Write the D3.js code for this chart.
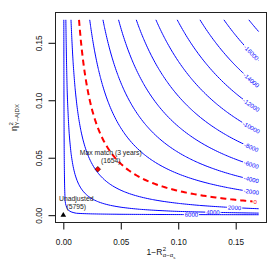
<!DOCTYPE html>
<html>
<head>
<meta charset="utf-8">
<script src="https://cdn.jsdelivr.net/npm/d3@7"></script>
<style>
  html, body { margin: 0; padding: 0; background: #fff; }
  svg { display: block; font-family: "Liberation Sans", Arial, Helvetica, sans-serif; }
</style>
</head>
<body>
<div id="chart"></div>
<script>
// contour levels of the adjusted estimate
const levels = [-18000, -16000, -14000, -12000, -10000, -8000, -6000, -4000, -2000, 0, 2000, 4000, 6000];
const xTicks = [0, 0.05, 0.1, 0.15];
const yTicks = [0, 0.05, 0.1, 0.15];
const xLim = [0, 0.17];
const yLim = [0, 0.17];

// benchmark points
const pointNames = ['Unadjusted', 'Max match (3 years)'];
const pointX = [0, 0.03];
const pointY = [0, 0.04];
const pointEstimates = [5795, 1654];

// surface: estimate - scale * sqrt(eta2 * (1-R2)/R2)
const surfaceEstimate = 6600;
const surfaceScale = 136000;
const gridSize = 101;

const WIDTH = 279;
const HEIGHT = 279;
const BLUE = '#0000ff';
const RED = '#ff0000';

const svg = d3
  .select('#chart')
  .append('svg')
  .attr('width', WIDTH)
  .attr('height', HEIGHT);

svg.append('rect').attr('width', WIDTH).attr('height', HEIGHT).attr('fill', '#fff');

// R style 4% expansion
const padX = (xLim[1] - xLim[0]) * 0.04;
const padY = (yLim[1] - yLim[0]) * 0.04;
const x = d3.scaleLinear().domain([xLim[0] - padX, xLim[1] + padX]).range([55.5, 266.5]);
const y = d3.scaleLinear().domain([yLim[0] - padY, yLim[1] + padY]).range([223, 12]);

// grid for the contours
const stepX = (xLim[1] - xLim[0]) / (gridSize - 1);
const stepY = (yLim[1] - yLim[0]) / (gridSize - 1);
const values = [];
for (let j = 0; j < gridSize; j++) {
  const eta = yLim[0] + j * stepY;
  for (let i = 0; i < gridSize; i++) {
    const r = xLim[0] + i * stepX;
    values.push(surfaceEstimate - surfaceScale * Math.sqrt((eta * r) / (1 - r)));
  }
}
const contours = d3.contours().size([gridSize, gridSize]).thresholds(levels)(values);

const toScreen = (p) => [x(xLim[0] + (p[0] - 0.5) * stepX), y(yLim[0] + (p[1] - 0.5) * stepY)];
const onEdge = (p) => p[0] === 0 || p[0] === gridSize || p[1] === 0 || p[1] === gridSize;

// cut the closed rings at the grid border to get open lines
function openLines(ring) {
  const k = ring.findIndex(onEdge);
  if (k < 0) return [ring];
  const rot = ring.slice(k).concat(ring.slice(0, k));
  const out = [];
  let cur = [];
  rot.forEach((p) => {
    if (onEdge(p)) {
      if (cur.length > 1) out.push(cur);
      cur = [];
    } else cur.push(p);
  });
  if (cur.length > 1) out.push(cur);
  return out;
}

function yAt(line, X) {
  for (let i = 1; i < line.length; i++) {
    const a = line[i - 1], b = line[i];
    if ((a[0] - X) * (b[0] - X) <= 0 && a[0] !== b[0]) {
      const t = (X - a[0]) / (b[0] - a[0]);
      return a[1] + t * (b[1] - a[1]);
    }
  }
  return null;
}

const lineLength = (line) => d3.sum(line.slice(1), (p, i) => Math.hypot(p[0] - line[i][0], p[1] - line[i][1]));

// where along x the label of a level sits
const labelAt = (lv) => (lv === 0 ? 0.167 : lv > 0 ? { 2000: 0.149, 4000: 0.1302, 6000: 0.1115 }[lv] : 0.1635);

const lineGen = d3.line();
const defs = svg.append('defs');
const gLines = svg.append('g');
const gLabels = svg.append('g').attr('font-size', 6);

contours.forEach((c, ci) => {
  const lv = c.value;
  const col = lv === 0 ? RED : BLUE;
  const lines = [];
  c.coordinates.forEach((poly) => poly.forEach((ring) => openLines(ring).forEach((seg) => lines.push(seg.map(toScreen)))));
  if (!lines.length) return;

  const maskId = 'm' + ci;
  const mask = defs.append('mask').attr('id', maskId).attr('maskUnits', 'userSpaceOnUse')
    .attr('x', 0).attr('y', 0).attr('width', WIDTH).attr('height', HEIGHT);
  mask.append('rect').attr('width', WIDTH).attr('height', HEIGHT).attr('fill', '#fff');

  lines.forEach((line) => {
    gLines.append('path')
      .attr('d', lineGen(line))
      .attr('fill', 'none')
      .attr('stroke', col)
      .attr('stroke-width', lv === 0 ? 2 : 1)
      .attr('stroke-dasharray', lv === 0 ? '6,4' : null)
      .attr('mask', `url(#${maskId})`);
  });

  const main = lines.reduce((a, b) => (lineLength(b) > lineLength(a) ? b : a));
  if (lineLength(main) < 30) return;
  const X = x(labelAt(lv));
  const Y = yAt(main, X);
  if (Y === null) return;
  const y1 = yAt(main, X - 4), y2 = yAt(main, X + 4);
  let ang = y1 !== null && y2 !== null ? (Math.atan2(y2 - y1, 8) * 180) / Math.PI : 0;
  const txt = gLabels.append('text')
    .attr('transform', `translate(${X},${Y}) rotate(${ang})`)
    .attr('text-anchor', 'middle')
    .attr('dy', '0.35em')
    .attr('fill', col)
    .text(String(lv));
  const w = txt.node().getComputedTextLength() + 2;
  mask.append('rect')
    .attr('x', -w / 2).attr('y', -2.6).attr('width', w).attr('height', 5.2)
    .attr('transform', `translate(${X},${Y}) rotate(${ang})`)
    .attr('fill', '#000');
});

// axes
const axisX = d3.axisBottom(x).tickValues(xTicks).tickFormat(d3.format('.2f')).tickSize(7).tickSizeOuter(0).tickPadding(9.5);
const gx = svg.append('g').attr('transform', `translate(0,${222.5})`).call(axisX);
gx.select('.domain').remove();
gx.attr('font-family', null).attr('font-size', 8.2);
gx.selectAll('.tick text').attr('fill', '#111');

const axisY = d3.axisLeft(y).tickValues(yTicks).tickFormat(d3.format('.2f')).tickSize(7).tickSizeOuter(0);
const gy = svg.append('g').attr('transform', 'translate(55.5,0)').call(axisY);
gy.select('.domain').remove();
gy.attr('font-family', null).attr('font-size', 8.2);
gy.selectAll('.tick text')
  .attr('transform', 'rotate(-90)')
  .attr('x', 0)
  .attr('y', -13.5)
  .attr('dy', 0)
  .attr('text-anchor', 'middle')
  .attr('fill', '#111');

svg.append('rect')
  .attr('x', 55.5).attr('y', 12.5).attr('width', 211).attr('height', 210)
  .attr('fill', 'none').attr('stroke', '#222').attr('stroke-width', 1);

// benchmark points
const gPts = svg.append('g');
pointNames.forEach((name, i) => {
  const px = x(pointX[i]), py = y(pointY[i]);
  if (i === 0) {
    gPts.append('path').attr('d', d3.symbol(d3.symbolTriangle, 14)()).attr('transform', `translate(${px},${py})`).attr('fill', '#000');
  } else {
    gPts.append('path').attr('d', d3.symbol(d3.symbolSquare, 15)()).attr('transform', `translate(${px},${py}) rotate(45)`)
      .attr('fill', RED).attr('stroke', '#500').attr('stroke-width', 0.7);
  }
  gPts.append('text').attr('x', px + 13).attr('y', py - 17).attr('dy', '0.35em').attr('text-anchor', 'middle')
    .attr('font-size', 6.8).attr('fill', '#222').text(name);
  gPts.append('text').attr('x', px + 13).attr('y', py - 8.5).attr('dy', '0.35em').attr('text-anchor', 'middle')
    .attr('font-size', 6.8).attr('fill', '#222').text(`(${pointEstimates[i]})`);
});

// x title: 1-R^2_{alpha-alpha_s}
const xt = svg.append('g').attr('fill', '#111');
const t1 = xt.append('text').attr('font-size', 8.5).text('1\u2212R');
const w1 = t1.node().getComputedTextLength();
xt.append('text').attr('x', w1 + 0.4).attr('y', -3.8).attr('font-size', 6).text('2');
const t3 = xt.append('text').attr('x', w1 + 0.4).attr('y', 2.8).attr('font-size', 6).text('\u03b1\u2212\u03b1');
const w3 = t3.node().getComputedTextLength();
xt.append('text').attr('x', w1 + 0.4 + w3).attr('y', 4.4).attr('font-size', 4.3).text('s');
const xtw = xt.node().getBBox().width;
xt.attr('transform', `translate(${161 - xtw / 2},${254.5})`);

// y title: eta^2_{Y~A|DX}
const yt = svg.append('g').attr('fill', '#111');
const e1 = yt.append('text').attr('font-size', 9).text('\u03b7');
const we = e1.node().getComputedTextLength();
yt.append('text').attr('x', we + 0.4).attr('y', -4).attr('font-size', 6).text('2');
yt.append('text').attr('x', we + 0.4).attr('y', 2.6).attr('font-size', 6).text('Y~A|DX');
const ytw = yt.node().getBBox().width;
yt.attr('transform', `translate(16.5,${117.5 + ytw / 2}) rotate(-90)`);
</script>
</body>
</html>
